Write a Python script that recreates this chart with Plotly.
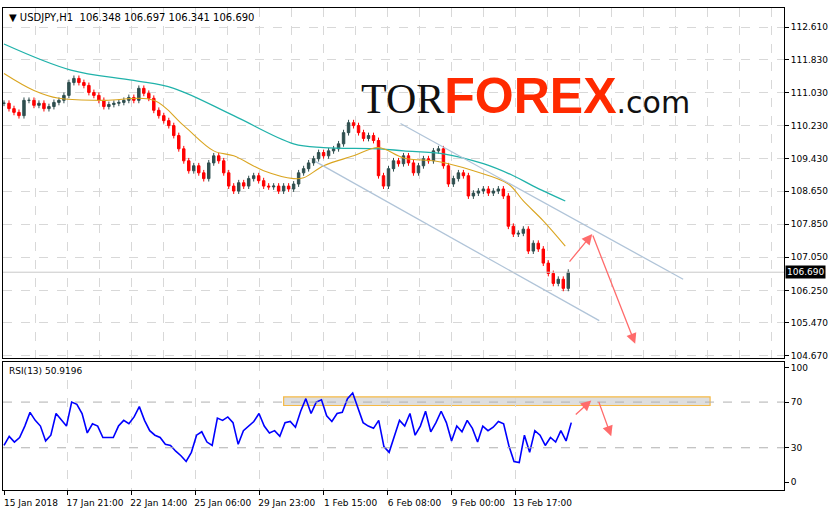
import numpy as np
import plotly.graph_objects as go

# ---- data (5-hour bars) ----
closes = [110.77,110.64,110.55,110.47,110.84,110.84,110.72,110.77,110.64,110.69,110.79,110.84,110.96,111.27,111.37,111.27,111.20,111.03,110.96,110.84,110.69,110.74,110.77,110.79,110.84,110.91,110.84,111.13,111.01,110.89,110.60,110.47,110.35,110.23,109.99,109.67,109.38,109.14,109.26,109.09,108.95,109.33,109.50,109.38,109.09,108.77,108.65,108.85,108.77,108.95,109.02,108.90,108.77,108.75,108.77,108.65,108.77,108.70,108.82,109.09,109.19,109.33,109.43,109.58,109.50,109.62,109.67,109.79,110.06,110.30,110.23,110.06,109.92,109.99,109.87,109.02,108.77,109.19,109.38,109.31,109.50,109.33,109.09,109.26,109.43,109.38,109.62,109.67,109.26,108.82,108.95,109.09,109.02,108.53,108.60,108.65,108.70,108.60,108.65,108.70,108.53,107.80,107.61,107.63,107.73,107.20,107.39,107.25,106.91,106.66,106.42,106.52,106.30,106.69]
wick = 0.07

teal_x = [0,67,130,170,230,290,320,376,400,440,480,510,530,562]
teal_y = [112.20,111.57,111.32,111.13,110.47,109.79,109.70,109.67,109.62,109.55,109.31,109.02,108.77,108.41]
orange_x = [0,30,55,100,150,180,210,230,260,290,300,320,350,375,400,430,445,470,505,520,540,562]
orange_y = [111.49,111.08,110.89,110.84,110.84,110.23,109.62,109.50,109.14,108.95,108.97,109.26,109.50,109.70,109.45,109.38,109.31,109.14,108.82,108.41,107.93,107.32]

rsi = [32,40,35,39,49,61,54,49,36,41,60,54,49,70,68,60,43,51,49,39,39,39,49,54,51,57,66,54,45,41,39,33,32,27,23,18,26,41,44,35,32,56,54,57,52,33,45,49,53,60,49,43,45,40,52,53,48,62,73,60,70,72,58,53,60,61,73,78,65,52,49,47,54,31,26,41,54,49,60,41,49,62,44,52,62,52,36,49,44,54,47,35,49,45,48,53,51,32,18,17,41,26,45,41,32,39,35,45,36,52]

chan_upper_x = [397, 680]; chan_upper_y = [110.28, 106.52]
chan_lower_x = [312, 596]; chan_lower_y = [109.36, 105.52]
arrow_px = [(565, 106.91, 589, 107.61), (589, 107.61, 632, 104.96)]
rsi_arrows = [(571, 58, 588, 71.5), (595, 71.5, 608, 40)]
rsi_box = (280, 707, 67, 74.5)
last_price = 106.69

tick_bars = [0,64,128,192,256,320,384,448,512]
tick_labels = ["15 Jan 2018","17 Jan 21:00","22 Jan 14:00","25 Jan 06:00","29 Jan 23:00",
               "1 Feb 15:00","6 Feb 08:00","9 Feb 00:00","13 Feb 17:00"]
price_ticks = [112.61,111.83,111.03,110.23,109.43,108.65,107.85,107.05,106.25,105.47,104.67]

# ---- build ----
x = [i*5 for i in range(len(closes))]
opens = [closes[0]] + closes[:-1]
highs = [max(o, c)+wick for o, c in zip(opens, closes)]
lows = [min(o, c)-wick for o, c in zip(opens, closes)]

fig = go.Figure()
fig.add_trace(go.Candlestick(x=x, open=opens, high=highs, low=lows, close=closes,
    increasing=dict(line=dict(color="#2f4f4f", width=1), fillcolor="#2f4f4f"),
    decreasing=dict(line=dict(color="#ff0000", width=1), fillcolor="#ff0000"),
    whiskerwidth=0, xaxis="x", yaxis="y", showlegend=False))
fig.add_trace(go.Scatter(x=teal_x, y=teal_y, mode="lines", line=dict(color="#20b2aa", width=1.3, shape="spline"), showlegend=False))
fig.add_trace(go.Scatter(x=orange_x, y=orange_y, mode="lines", line=dict(color="#daa520", width=1.1, shape="spline"), showlegend=False))
fig.add_trace(go.Scatter(x=chan_upper_x, y=chan_upper_y, mode="lines", line=dict(color="#b0c4d8", width=1.3), showlegend=False))
fig.add_trace(go.Scatter(x=chan_lower_x, y=chan_lower_y, mode="lines", line=dict(color="#b0c4d8", width=1.3), showlegend=False))

rx = np.linspace(0, 568, len(rsi))
fig.add_trace(go.Scatter(x=rx, y=rsi, mode="lines", line=dict(color="#0000ff", width=1.6),
                         xaxis="x2", yaxis="y2", showlegend=False))

fig.add_shape(type="line", xref="x", yref="y", x0=-1, x1=781, y0=last_price, y1=last_price,
              line=dict(color="#c8c8c8", width=1))
fig.add_shape(type="rect", xref="x2", yref="y2", x0=rsi_box[0], x1=rsi_box[1], y0=rsi_box[2], y1=rsi_box[3],
              fillcolor="rgba(190,190,190,0.5)", line=dict(color="#f5b945", width=1.2), layer="below")
for lvl in (30, 70):
    fig.add_shape(type="line", xref="x2", yref="y2", x0=-1, x1=781, y0=lvl, y1=lvl,
                  line=dict(color="#b0b0b0", width=1, dash="dash"))

for (x0, y0, x1, y1) in arrow_px:
    fig.add_annotation(x=x1, y=y1, ax=x0, ay=y0, xref="x", yref="y", axref="x", ayref="y",
                       showarrow=True, arrowhead=2, arrowsize=1.6, arrowwidth=1.3, arrowcolor="#ff6b6b", text="")
for (x0, y0, x1, y1) in rsi_arrows:
    fig.add_annotation(x=x1, y=y1, ax=x0, ay=y0, xref="x2", yref="y2", axref="x2", ayref="y2",
                       showarrow=True, arrowhead=2, arrowsize=1.6, arrowwidth=1.3, arrowcolor="#ff6b6b", text="")

fig.add_annotation(x=1.0, y=last_price, xref="paper", yref="y", xanchor="left", showarrow=False,
                   text="106.690", bgcolor="black", font=dict(color="white", size=9, family="DejaVu Sans"),
                   borderpad=1, xshift=1)
fig.add_annotation(x=0, y=1, xref="paper", yref="paper", xanchor="left", yanchor="top", showarrow=False,
                   text="▼ USDJPY,H1  106.348 106.697 106.341 106.690", font=dict(size=10, color="black", family="DejaVu Sans"),
                   xshift=4, yshift=-2)
fig.add_annotation(x=0, y=0.266, xref="paper", yref="paper", xanchor="left", yanchor="top", showarrow=False,
                   text="RSI(13) 50.9196", font=dict(size=9, color="black", family="DejaVu Sans"), xshift=4, yshift=-2)
fig.add_annotation(x=355, y=110.95, xref="x", yref="y", xanchor="left", yanchor="middle", showarrow=False,
                   text="<span style='font-family:Liberation Serif;font-size:42px;color:#111'>TOR</span>"
                        "<span style='font-family:Liberation Sans;font-size:50px;color:#ff2a00'><b>FOREX</b></span>"
                        "<span style='font-family:DejaVu Sans;font-size:30px;color:#111'>.com</span>")

grid = dict(showgrid=True, gridcolor="#d8d8d8", griddash="dash", gridwidth=1)
axline = dict(showline=True, linecolor="black", linewidth=1, mirror=True, zeroline=False, automargin=False)
fig.update_layout(
    width=829, height=510, margin=dict(l=3, r=45, t=8, b=20),
    paper_bgcolor="white", plot_bgcolor="white",
    xaxis=dict(domain=[0, 1], range=[-1, 781], anchor="y", showticklabels=False, rangeslider=dict(visible=False),
               tickmode="linear", tick0=0, dtick=32, **grid, **axline),
    yaxis=dict(domain=[0.274, 1], range=[104.62, 113.07], side="right", tickvals=price_ticks,
               ticktext=[f"{v:.3f}" for v in price_ticks], ticks="outside", ticklen=4,
               tickfont=dict(size=9, color="black", family="DejaVu Sans"), **grid, **axline),
    xaxis2=dict(domain=[0, 1], range=[-1, 781], anchor="y2", tickvals=tick_bars, ticktext=tick_labels,
                ticks="outside", ticklen=4, ticklabelshift=27, tickangle=0,
                tickfont=dict(size=9, color="black", family="DejaVu Sans"), **grid, **axline),
    yaxis2=dict(domain=[0, 0.266], range=[-7, 105.3], side="right", tickvals=[0, 30, 70, 100],
                ticks="outside", ticklen=4, showgrid=False,
                tickfont=dict(size=9, color="black", family="DejaVu Sans"), **axline),
)
fig.update_xaxes(tickcolor="black")
fig.update_yaxes(tickcolor="black")
fig.write_html("out.html", post_script="document.body.style.margin='0';",
               config={"displayModeBar": False})
